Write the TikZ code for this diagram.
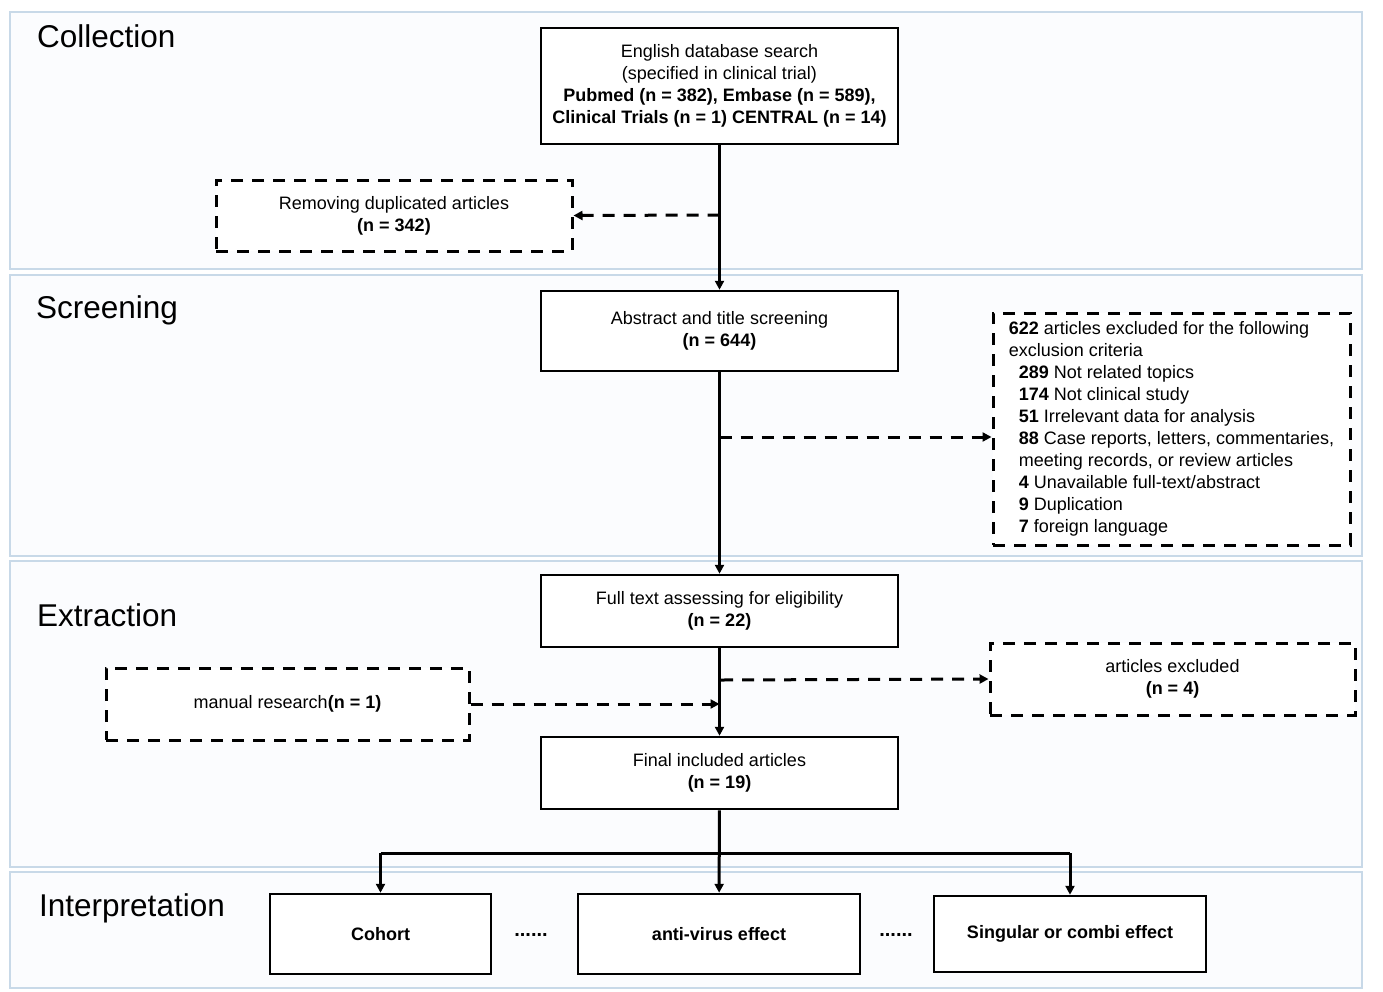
\documentclass[tikz,border=0pt]{standalone}
\usepackage{fontspec}
\setmainfont{Liberation Sans}
\usetikzlibrary{arrows.meta}
\definecolor{panelline}{HTML}{C8D9E8}
\definecolor{panelfill}{HTML}{FBFCFE}

\begin{document}
\begin{tikzpicture}[x=1pt, y=-1pt,
  panel/.style={draw=panelline, line width=2pt, fill=panelfill},
  title/.style={anchor=base west, inner sep=0pt, font=\fontsize{31.5}{36}\selectfont},
  box/.style={draw, line width=2.5pt, align=center, inner sep=0pt, fill=white,
    font=\fontsize{18}{22}\selectfont},
  dbox/.style={box, line width=3pt, dash pattern=on 12pt off 9pt},
  link/.style={line width=3pt, -{Triangle[length=9pt,width=9pt]}},
  dlink/.style={link, dash pattern=on 12pt off 9pt}]
  \useasboundingbox (0,0) rectangle (1383,991);

  % stage panels
  \draw[panel] (10,12) rectangle (1362,269);
  \draw[panel] (10,275) rectangle (1362,556);
  \draw[panel] (10,561) rectangle (1362,867);
  \draw[panel] (10,872) rectangle (1362,988);
  \node[title] (tcoll) at (37,47) {Collection};
  \node[title] (tscreen) at (36,318) {Screening};
  \node[title] (textr) at (37,626) {Extraction};
  \node[title] (tinterp) at (39,916) {Interpretation};

  % boxes
  \node[box, minimum width=357pt, minimum height=116pt] (search) at (719.5,86)
    {English database search\\(specified in clinical trial)\\
     \textbf{Pubmed (n = 382), Embase (n = 589),}\\
     \textbf{Clinical Trials (n = 1) CENTRAL (n = 14)}};
  \node[dbox, minimum width=356pt, minimum height=71pt] (dup) at (394,215.5)
    {Removing duplicated articles\\\textbf{(n = 342)}};
  \node[box, minimum width=357pt, minimum height=80pt] (abstract) at (719.5,331)
    {Abstract and title screening\\\textbf{(n = 644)}};
  \node[dbox, align=left, minimum width=357pt, minimum height=232pt] (excl) at (1171.5,429)
    {\textbf{622} articles excluded for the following\\
     exclusion criteria\\
     \hspace*{10pt}\textbf{289} Not related topics\\
     \hspace*{10pt}\textbf{174} Not clinical study\\
     \hspace*{10pt}\textbf{51} Irrelevant data for analysis\\
     \hspace*{10pt}\textbf{88} Case reports, letters, commentaries,\\
     \hspace*{10pt}meeting records, or review articles\\
     \hspace*{10pt}\textbf{4} Unavailable full-text/abstract\\
     \hspace*{10pt}\textbf{9} Duplication\\
     \hspace*{10pt}\textbf{7} foreign language};
  \node[box, minimum width=357pt, minimum height=72pt] (fulltext) at (719.5,611)
    {Full text assessing for eligibility\\\textbf{(n = 22)}};
  \node[dbox, minimum width=363pt, minimum height=72pt] (manual) at (287.5,704)
    {manual research\textbf{(n = 1)}};
  \node[dbox, minimum width=365pt, minimum height=72pt] (artexcl) at (1172.5,679)
    {articles excluded\\\textbf{(n = 4)}};
  \node[box, minimum width=357pt, minimum height=72pt] (final) at (719.5,773)
    {Final included articles\\\textbf{(n = 19)}};
  \node[box, minimum width=221pt, minimum height=80pt, font=\fontsize{18}{22}\selectfont\bfseries] (cohort) at (380.5,934) {Cohort};
  \node[box, minimum width=282pt, minimum height=80pt, font=\fontsize{18}{22}\selectfont\bfseries] (antivirus) at (719,934) {anti-virus effect};
  \node[box, minimum width=272pt, minimum height=76pt, font=\fontsize{18}{22}\selectfont\bfseries] (singular) at (1070,934) {Singular or combi effect};
  \node[font=\fontsize{20}{22}\selectfont\bfseries] (dotsa) at (531,935) {......};
  \node[font=\fontsize{20}{22}\selectfont\bfseries] (dotsb) at (896,935) {......};

  % connectors
  \coordinate (j1) at (719.5,215);
  \coordinate (j2) at (719.5,437);
  \coordinate (j3) at (721,680);
  \coordinate (j4) at (719.5,853);
  \draw[link] (search) -- (abstract);
  \draw[dlink] (j1) -- (dup.east);
  \draw[link] (abstract) -- (fulltext);
  \draw[dlink] (j2) -- (excl.west |- j2);
  \draw[link] (fulltext) -- (final);
  \draw[dlink] (j3) -- (artexcl.west);
  \draw[dlink] (manual.east) -- (fulltext.south |- manual.east);
  \draw[link] (final) -- (antivirus);
  \draw[line width=3pt] (cohort.north |- j4) -- (singular.north |- j4);
  \draw[link] (cohort.north |- j4) -- (cohort.north);
  \draw[link] (singular.north |- j4) -- (singular.north);
\end{tikzpicture}
\end{document}
